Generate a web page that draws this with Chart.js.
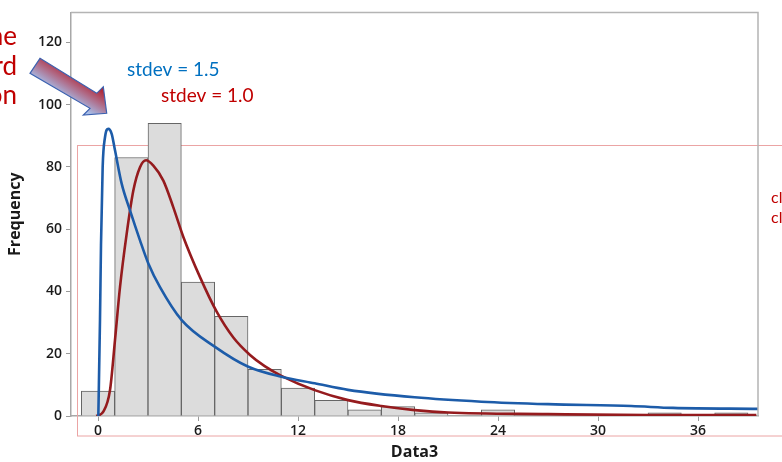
<!DOCTYPE html>
<html>
<head>
<meta charset="utf-8">
<script src="https://cdn.jsdelivr.net/npm/chart.js@4.4.1/dist/chart.umd.min.js"></script>
<style>
  html, body { margin: 0; padding: 0; background: #fff; overflow: hidden; }
  #wrap { width: 782px; height: 462px; position: relative; }
</style>
</head>
<body>
<div id="wrap"><canvas id="myChart"></canvas></div>
<script>
// ----- data -----
// histogram, bins of width 2 centred on even values
const binCenters = [0, 2, 4, 6, 8, 10, 12, 14, 16, 18, 20, 22, 24, 26, 28, 30, 32, 34, 36, 38];
const binCounts  = [8, 83, 94, 43, 32, 15, 9, 5, 2, 3, 1, 0, 2, 0, 0, 0, 0, 1, 0, 1];

// fitted curve, stdev = 1.5 (blue)
const blueX = [0.02, 0.12, 0.18, 0.28, 0.42, 0.62, 0.82, 1.02, 1.42, 1.92, 2.52, 3.02, 3.72, 5.02, 7.02, 9.02, 11.0, 13.0, 15.0, 19.0, 23.0, 27.0, 32.0, 34.5, 39.6];
const blueY = [0, 31, 55, 80, 89.5, 92.2, 90.6, 85.3, 74.6, 66, 56.4, 49, 41.4, 30.8, 22.2, 15.8, 12.6, 10.5, 8.4, 6.0, 4.6, 3.8, 3.2, 2.6, 2.3];

// fitted curve, stdev = 1.0 (red)
const redX = [-0.1, 0.32, 0.72, 1.02, 1.32, 1.72, 2.12, 2.52, 2.88, 3.32, 3.92, 4.52, 5.12, 6.12, 7.12, 8.12, 9.12, 10.0, 11.0, 13.0, 15.0, 17.0, 19.0, 21.0, 27.0, 33.0, 39.5];
const redY = [0, 1.4, 8.3, 24.4, 41.4, 58.5, 72.4, 79.9, 82.1, 80.4, 75.6, 67, 57.5, 44.6, 33.5, 25.2, 19.6, 16.0, 12.9, 8.3, 5.1, 3.2, 1.9, 1.1, 0.6, 0.3, 0.3];

const xTickValues = [0, 6, 12, 18, 24, 30, 36];
const yTickValues = [0, 20, 40, 60, 80, 100, 120];

// ----- decorations (slide text, arrow, frame) -----
const decorations = {
  id: 'decorations',
  beforeDatasetsDraw(chart) {
    const ctx = chart.ctx;
    ctx.save();
    // light red box of the slide behind the plot
    ctx.strokeStyle = '#eba4a4';
    ctx.lineWidth = 1;
    ctx.strokeRect(77.5, 145.5, 720, 290.5);
    ctx.restore();
  },
  afterDraw(chart) {
    const ctx = chart.ctx;
    const a = chart.chartArea;
    ctx.save();
    // frame top + right
    ctx.strokeStyle = '#b4b4b4';
    ctx.lineWidth = 1.5;
    ctx.beginPath();
    ctx.moveTo(a.left, a.top);
    ctx.lineTo(a.right, a.top);
    ctx.lineTo(a.right, a.bottom);
    ctx.stroke();

    // cut-off slide text on the left
    ctx.fillStyle = '#c00000';
    ctx.font = '26px Lato';
    ctx.textAlign = 'right';
    ctx.textBaseline = 'alphabetic';
    ctx.fillText('he', 17, 45);
    ctx.fillText('rd', 17, 75);
    ctx.fillText('on', 17, 104);

    // cut-off slide text on the right
    ctx.font = '16px Lato';
    ctx.textAlign = 'left';
    ctx.fillText('cl', 771, 203);
    ctx.fillText('cl', 771, 223);

    // curve labels
    ctx.font = '19px Lato';
    ctx.fillStyle = '#0070c0';
    ctx.fillText('stdev = 1.5', 127, 76);
    ctx.fillStyle = '#c00000';
    ctx.fillText('stdev = 1.0', 161, 102);

    // block arrow
    const pts = [[40, 58.3], [96.7, 93.3], [103.3, 86.7], [106.7, 113.3], [83.3, 115], [90, 108.3], [30, 73.3]];
    const g = ctx.createLinearGradient(76, 74, 62, 96);
    g.addColorStop(0, '#b02838');
    g.addColorStop(0.45, '#b06a86');
    g.addColorStop(1, '#a6bde8');
    ctx.beginPath();
    pts.forEach((p, i) => i ? ctx.lineTo(p[0], p[1]) : ctx.moveTo(p[0], p[1]));
    ctx.closePath();
    ctx.fillStyle = g;
    ctx.fill();
    ctx.strokeStyle = '#3d62b0';
    ctx.lineWidth = 1.2;
    ctx.stroke();
    ctx.restore();
  }
};

const tickFont = { family: 'Open Sans', size: 14, weight: '600' };
const titleFont = { family: 'Open Sans', size: 16, weight: 'bold' };

const config = {
  type: 'bar',
  data: {
    datasets: [
      {
        type: 'line',
        data: blueX.map((x, i) => ({ x: x, y: blueY[i] })),
        borderColor: '#1d5ca9',
        borderWidth: 2.6,
        pointRadius: 0,
        cubicInterpolationMode: 'monotone',
        order: 1
      },
      {
        type: 'line',
        data: redX.map((x, i) => ({ x: x, y: redY[i] })),
        borderColor: '#951b1e',
        borderWidth: 2.6,
        pointRadius: 0,
        cubicInterpolationMode: 'monotone',
        order: 2
      },
      {
        type: 'bar',
        data: binCenters.map((c, i) => ({ x: c, y: binCounts[i] })),
        backgroundColor: '#dcdcdc',
        borderColor: '#666666',
        borderWidth: 1,
        barPercentage: 1,
        categoryPercentage: 1,
        order: 3
      }
    ]
  },
  options: {
    responsive: true,
    maintainAspectRatio: false,
    animation: false,
    layout: { padding: { top: 11, right: 24, left: 0, bottom: 0 } },
    scales: {
      x: {
        type: 'linear',
        min: -1.62,
        max: 39.6,
        offset: false,
        afterBuildTicks: s => { s.ticks = xTickValues.map(v => ({ value: v })); },
        afterFit: s => { s.height = 46; },
        grid: { offset: false, drawOnChartArea: false, tickLength: 5, color: '#9a9a9a' },
        border: { color: '#a8a8a8', width: 1.5 },
        ticks: { font: tickFont, color: '#1a1a1a', padding: 2, maxRotation: 0 },
        title: { display: true, text: 'Data3', font: titleFont, color: '#1a1a1a', padding: { top: 0, bottom: 0 } }
      },
      y: {
        min: 0,
        max: 129.6,
        afterBuildTicks: s => { s.ticks = yTickValues.map(v => ({ value: v })); },
        afterFit: s => { s.width = 71; },
        grid: { drawOnChartArea: false, tickLength: 5, color: '#9a9a9a' },
        border: { color: '#a8a8a8', width: 1.5 },
        ticks: { font: tickFont, color: '#1a1a1a', padding: 4 },
        title: { display: true, text: 'Frequency', font: titleFont, color: '#1a1a1a', padding: { top: 6, bottom: 0 } }
      }
    },
    plugins: {
      legend: { display: false },
      tooltip: { enabled: false }
    }
  },
  plugins: [decorations]
};

const myChart = new Chart(document.getElementById('myChart').getContext('2d'), config);
</script>
</body>
</html>
